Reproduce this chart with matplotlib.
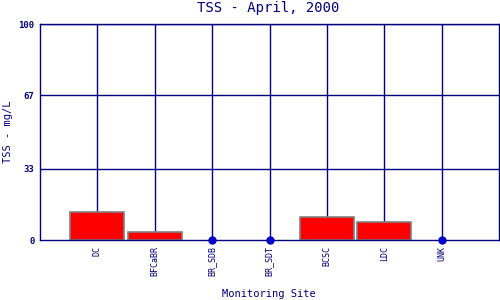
import numpy as np
import matplotlib.pyplot as plt

# data
sites = ['DC', 'BFCaBR', 'BR_SDB', 'BR_SDT', 'BCSC', 'LDC', 'UNK']
tss = [12.8, 3.5, 0, 0, 10.5, 8.3, 0]
no_data = ['BR_SDB', 'BR_SDT', 'UNK']
yticks = [0, 33, 67, 100]

navy = '#000080'
plt.rcParams['font.family'] = 'DejaVu Sans Mono'

fig = plt.figure(figsize=(5, 3), dpi=100)
ax = fig.add_axes([0.08, 0.2, 0.918, 0.72])

x = np.arange(1, len(sites) + 1)
ax.set_xlim(0, 8)
ax.set_ylim(0, 100)

# grid
for xi in x:
    ax.axvline(xi, color=navy, lw=1, zorder=1)
for yi in yticks[1:]:
    ax.axhline(yi, color=navy, lw=1, zorder=1)

has = [i for i, s in enumerate(sites) if s not in no_data]
ax.bar(x[has], [tss[i] for i in has], width=0.94, color='red',
       edgecolor='gray', linewidth=1.2, zorder=2)

pts = [i for i, s in enumerate(sites) if s in no_data]
ax.plot(x[pts], [0] * len(pts), 'o', color='#0000c8', markersize=5, zorder=3, clip_on=False)

for sp in ax.spines.values():
    sp.set_color(navy)
    sp.set_linewidth(1)

ax.set_xticks(x)
ax.set_xticklabels(sites, rotation=90, fontsize=6, color=navy)
ax.set_yticks(yticks)
ax.set_yticklabels([str(v) for v in yticks], fontsize=6.5, color=navy, fontweight='bold')
ax.tick_params(length=0, pad=4)

fig.text(0.537, 0.972, 'TSS - April, 2000', fontsize=10, color=navy, ha='center', va='center')
fig.text(0.016, 0.56, 'TSS - mg/L', fontsize=7.5, color=navy, rotation=90,
         ha='center', va='center')
fig.text(0.537, 0.02, 'Monitoring Site', fontsize=7.5, color=navy, ha='center', va='center')

fig.savefig('out.png', dpi=100)
